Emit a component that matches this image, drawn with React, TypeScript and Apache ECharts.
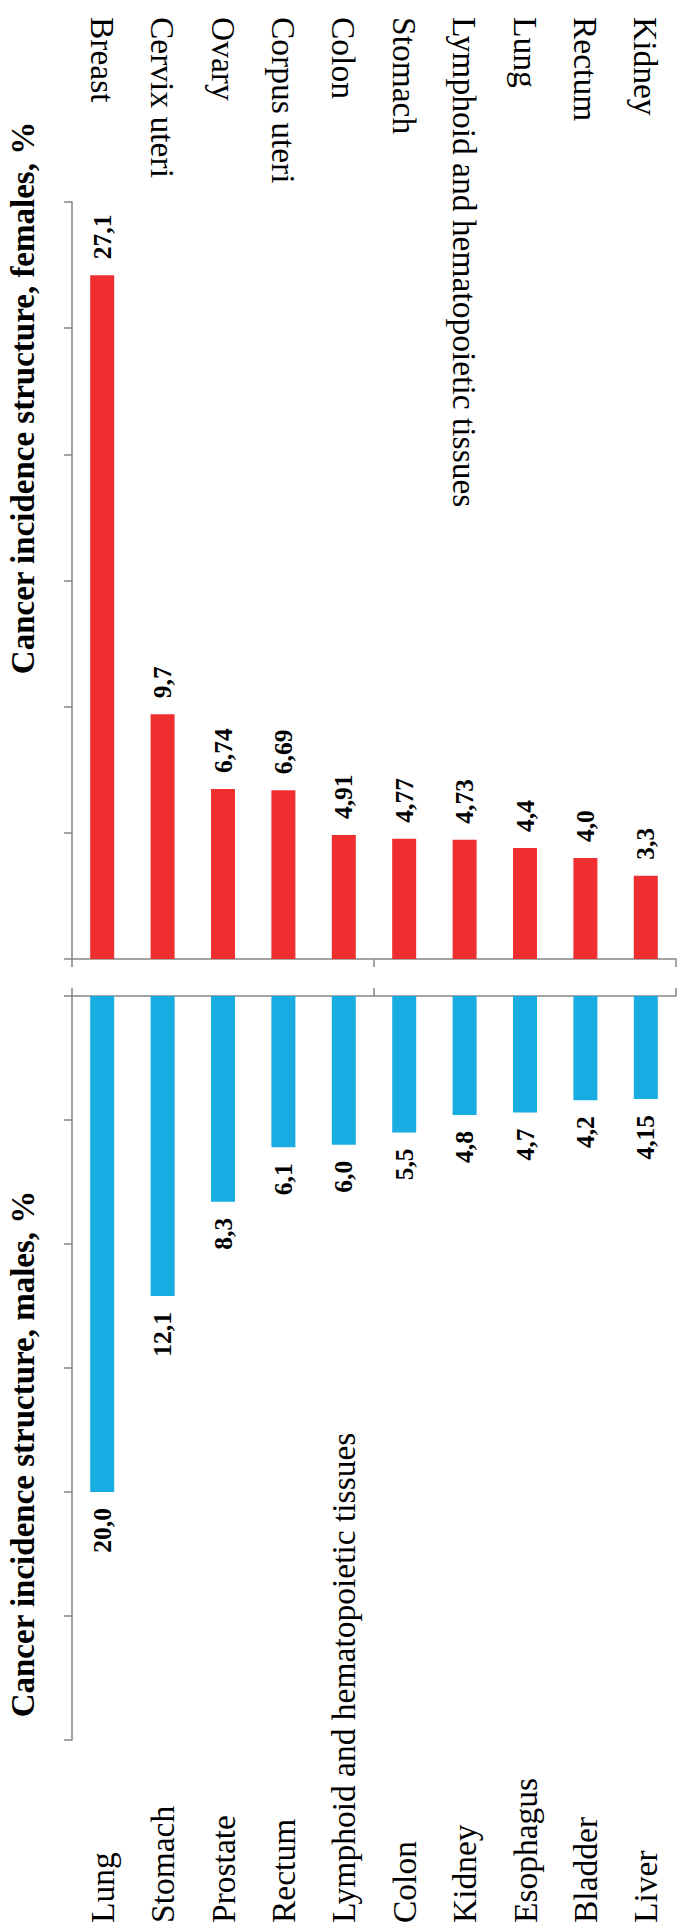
import React, { useEffect, useRef } from "react";
import * as echarts from "echarts";

// Cancer incidence structure, %, by sex
const femaleCategories = [
  "Breast",
  "Cervix uteri",
  "Ovary",
  "Corpus uteri",
  "Colon",
  "Stomach",
  "Lymphoid and hematopoietic tissues",
  "Lung",
  "Rectum",
  "Kidney",
];
const femaleValues = [27.1, 9.7, 6.74, 6.69, 4.91, 4.77, 4.73, 4.4, 4.0, 3.3];

const maleCategories = [
  "Lung",
  "Stomach",
  "Prostate",
  "Rectum",
  "Lymphoid and hematopoietic tissues",
  "Colon",
  "Kidney",
  "Esophagus",
  "Bladder",
  "Liver",
];
const maleValues = [20.0, 12.1, 8.3, 6.1, 6.0, 5.5, 4.8, 4.7, 4.2, 4.15];

const femaleTitle = "Cancer incidence structure, females, %";
const maleTitle = "Cancer incidence structure, males, %";

const valueMin = 0;
const valueMax = 30;
const valueStep = 5;

const FONT = "'Liberation Serif', 'Times New Roman', serif";
const AXIS_COLOR = "#868686";
const RED = "#EF2F2F";
const BLUE = "#19ACE3";

// one decimal unless the value carries two (e.g. 4,15), decimal comma
const fmt = (v: number) => {
  const digits = Math.abs(v * 10 - Math.round(v * 10)) < 1e-9 ? 1 : 2;
  return v.toFixed(digits).replace(".", ",");
};

const axisLineStyle = { color: AXIS_COLOR, width: 1.5 };

const mainCategoryAxis = (gridIndex: number, position: string, data: string[]) => ({
  type: "category",
  gridIndex,
  position,
  data,
  axisLine: { show: true, onZero: false, lineStyle: axisLineStyle },
  axisTick: { show: true, length: 8, lineStyle: axisLineStyle },
  axisLabel: { show: false },
  splitLine: { show: false },
});

const labelCategoryAxis = (gridIndex: number, position: string, offset: number, data: string[]) => ({
  type: "category",
  gridIndex,
  position,
  offset,
  data,
  axisLine: { show: false, onZero: false },
  axisTick: { show: false },
  axisLabel: {
    show: true,
    inside: true,
    rotate: 90,
    interval: 0,
    margin: 0,
    fontSize: 33.5,
    fontFamily: FONT,
    color: "#000",
  },
  splitLine: { show: false },
});

const valueAxis = (gridIndex: number, inverse: boolean) => ({
  type: "value",
  gridIndex,
  inverse,
  min: valueMin,
  max: valueMax,
  interval: valueStep,
  axisLine: { show: true, onZero: false, lineStyle: axisLineStyle },
  axisTick: { show: true, length: 8, lineStyle: axisLineStyle },
  axisLabel: { show: false },
  splitLine: { show: false },
});

const valueLabel = (position: string, align: string) => ({
  show: true,
  position,
  distance: 16,
  rotate: 90,
  align,
  verticalAlign: "middle",
  fontSize: 25.5,
  fontWeight: "bold",
  fontFamily: FONT,
  color: "#000",
  formatter: (p: any) => fmt(p.value),
});

const titleText = (text: string, x: number, y: number) => ({
  type: "text",
  x,
  y,
  rotation: Math.PI / 2,
  style: {
    text,
    fontSize: 33,
    fontWeight: "bold",
    fontFamily: FONT,
    fill: "#000",
    align: "center",
    verticalAlign: "middle",
  },
});

const option = {
  animation: false,
  backgroundColor: "#fff",
  grid: [
    { left: 72, top: 202, width: 604, height: 757 },
    { left: 72, top: 996, width: 604, height: 744 },
  ],
  xAxis: [
    mainCategoryAxis(0, "bottom", femaleCategories),
    labelCategoryAxis(0, "top", 185, femaleCategories),
    mainCategoryAxis(1, "top", maleCategories),
    labelCategoryAxis(1, "bottom", 183, maleCategories),
  ],
  yAxis: [valueAxis(0, false), valueAxis(1, true)],
  series: [
    {
      name: "Females",
      type: "bar",
      xAxisIndex: 0,
      yAxisIndex: 0,
      data: femaleValues,
      barWidth: 24,
      itemStyle: { color: RED },
      label: valueLabel("top", "left"),
    },
    {
      name: "Males",
      type: "bar",
      xAxisIndex: 2,
      yAxisIndex: 1,
      data: maleValues,
      barWidth: 24,
      itemStyle: { color: BLUE },
      label: valueLabel("bottom", "right"),
    },
  ],
  graphic: [titleText(femaleTitle, 23, 398), titleText(maleTitle, 23, 1454)],
};

export default function App() {
  const ref = useRef<HTMLDivElement>(null);
  useEffect(() => {
    if (!ref.current) return;
    const chart = echarts.init(ref.current, null, { renderer: "svg" });
    chart.setOption(option as any);
    return () => chart.dispose();
  }, []);
  return (
    <div style={{ position: "absolute", left: 0, top: 0, width: 678, height: 1930, background: "#fff" }}>
      <div ref={ref} style={{ width: 678, height: 1930 }} />
    </div>
  );
}
